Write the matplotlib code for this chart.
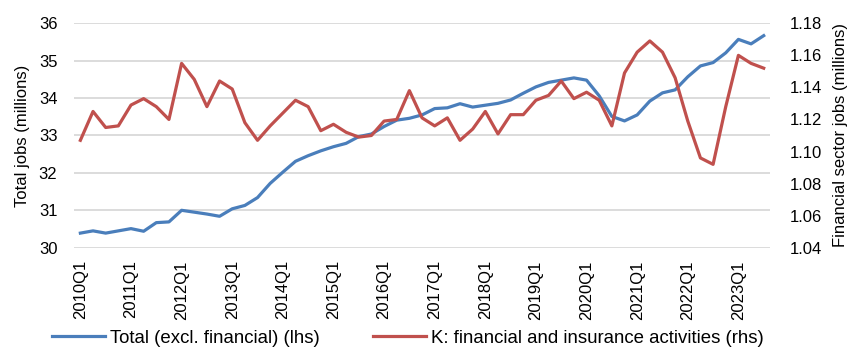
import matplotlib
matplotlib.use("Agg")
import matplotlib.pyplot as plt
from matplotlib.ticker import FormatStrFormatter

plt.rcParams['font.family'] = ['Liberation Sans', 'DejaVu Sans']

# Quarterly categories 2010Q1 .. 2023Q3
quarters = [f"{y}Q{q}" for y in range(2010, 2024) for q in range(1, 5)][:55]

# Total jobs excluding financial sector (millions, left axis)
total_excl_fin = [
    30.39, 30.45, 30.39, 30.45, 30.51, 30.44, 30.67, 30.69,
    31.00, 30.95, 30.90, 30.84, 31.04, 31.13, 31.34, 31.72,
    32.02, 32.31, 32.46, 32.59, 32.70, 32.79, 32.97, 33.04,
    33.24, 33.41, 33.46, 33.55, 33.72, 33.74, 33.85, 33.76,
    33.81, 33.86, 33.95, 34.13, 34.30, 34.42, 34.48, 34.54,
    34.48, 34.06, 33.51, 33.39, 33.55, 33.92, 34.14, 34.22,
    34.57, 34.86, 34.95, 35.21, 35.57, 35.45, 35.67,
]

# K: financial and insurance activities (millions, right axis)
financial = [
    1.107, 1.125, 1.115, 1.116, 1.129, 1.133, 1.128, 1.120,
    1.155, 1.145, 1.128, 1.144, 1.139, 1.118, 1.107, 1.116,
    1.124, 1.132, 1.128, 1.113, 1.117, 1.112, 1.109, 1.110,
    1.119, 1.120, 1.138, 1.121, 1.116, 1.121, 1.107, 1.114,
    1.125, 1.111, 1.123, 1.123, 1.132, 1.135, 1.144, 1.133,
    1.137, 1.132, 1.116, 1.149, 1.162, 1.169, 1.162, 1.146,
    1.119, 1.096, 1.092, 1.128, 1.160, 1.155, 1.152,
]

left_ticks = [30, 31, 32, 33, 34, 35, 36]
right_ticks = [1.04, 1.06, 1.08, 1.10, 1.12, 1.14, 1.16, 1.18]

blue = "#4A7EBB"
red = "#C0504D"
grid_col = "#D9D9D9"
fs = 12

fig = plt.figure(figsize=(8.52, 3.53), dpi=100)
ax = fig.add_axes([0.0869, 0.2983, 0.8169, 0.6357])
ax2 = ax.twinx()

x = list(range(len(quarters)))
l1, = ax.plot(x, total_excl_fin, color=blue, lw=2.3, solid_joinstyle='round',
              label="Total (excl. financial) (lhs)")
l2, = ax2.plot(x, financial, color=red, lw=2.3, solid_joinstyle='round',
               label="K: financial and insurance activities (rhs)")

ax.set_xlim(-0.5, len(quarters) - 0.5)
ax.set_ylim(30, 36)
ax.set_yticks(left_ticks)
ax2.set_ylim(1.04, 1.18)
ax2.set_yticks(right_ticks)
ax2.yaxis.set_major_formatter(FormatStrFormatter('%.2f'))

ax.set_xticks(x[::4])
ax.set_xticklabels(quarters[::4], rotation=90)

ax.grid(axis='y', color=grid_col, lw=1.3)
ax.set_axisbelow(True)

for a in (ax, ax2):
    for s in a.spines.values():
        s.set_visible(False)
    a.tick_params(length=0, labelsize=fs)
ax.tick_params(axis='y', pad=12)
ax.tick_params(axis='x', pad=9)
ax2.tick_params(axis='y', pad=14)

ax.set_ylabel("Total jobs (millions)", fontsize=fs, labelpad=6)
ax2.set_ylabel("Financial sector jobs (millions)", fontsize=fs, labelpad=8)

fig.legend(handles=[l1, l2], loc='lower center', bbox_to_anchor=(0.479, -0.03),
           ncol=2, frameon=False, fontsize=13.4, handlelength=2.85,
           handletextpad=0.27, columnspacing=2.85)

fig.savefig("out.png", dpi=100)
